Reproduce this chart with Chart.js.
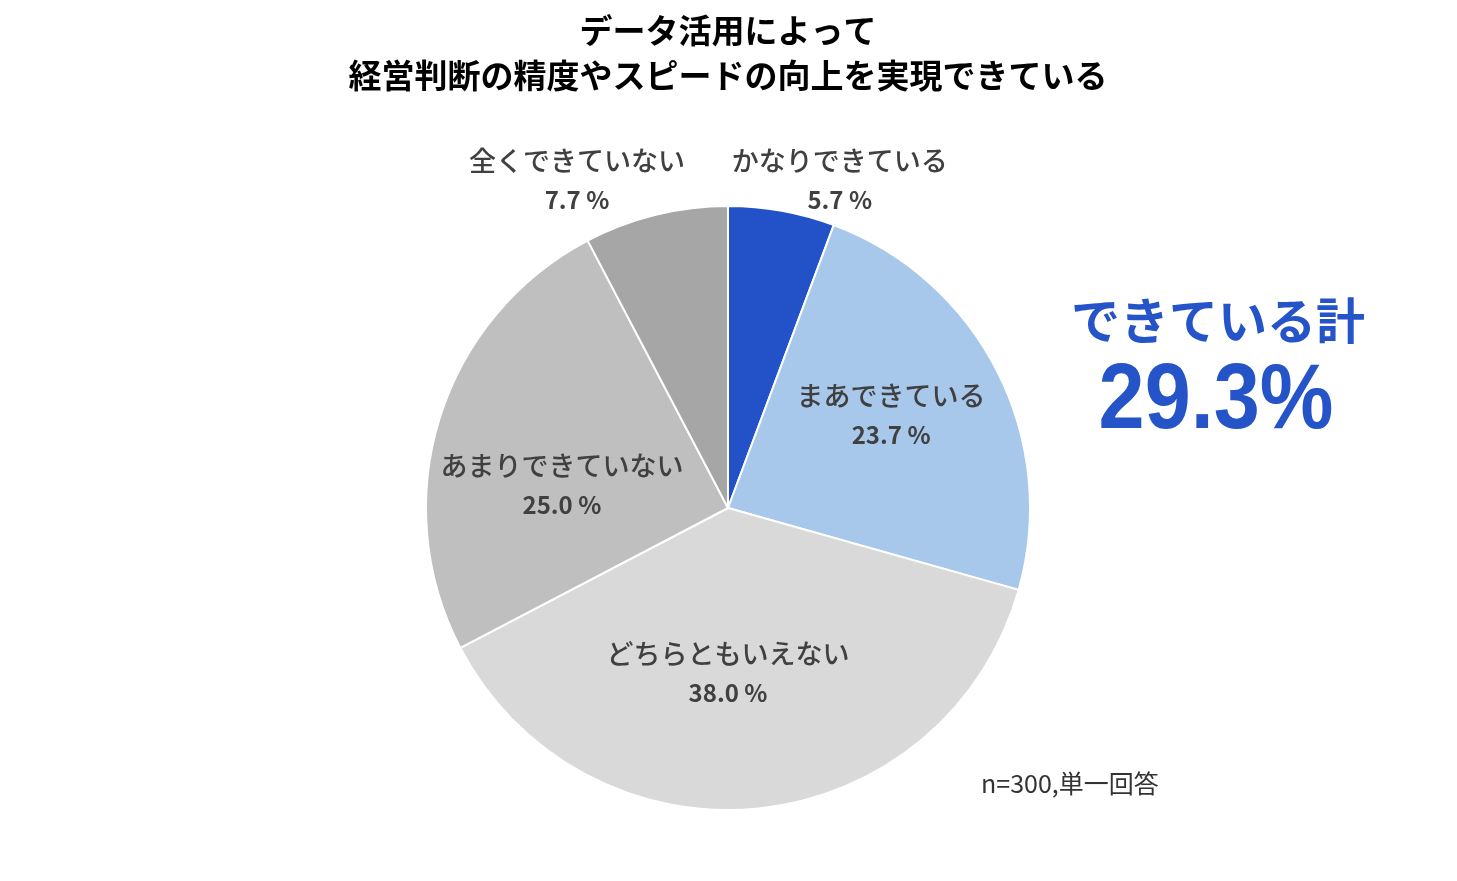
<!DOCTYPE html>
<html>
<head>
<meta charset="utf-8">
<script src="https://cdn.jsdelivr.net/npm/chart.js@4/dist/chart.umd.min.js"></script>
<style>
	html, body { margin: 0; padding: 0; background: #fff; }
	#wrap { position: relative; width: 1457px; height: 881px; }
</style>
</head>
<body>
<div id="wrap"><canvas id="pieChart" width="1457" height="881"></canvas></div>
<script>
// data
var categories = ["かなりできている", "まあできている", "どちらともいえない", "あまりできていない", "全くできていない"];
var values = [5.7, 23.7, 38.0, 25.0, 7.7];
var sliceColors = ["#2352C8", "#A7C8EB", "#D9D9D9", "#BFBFBF", "#A6A6A6"];
var titleLines = ["データ活用によって", "経営判断の精度やスピードの向上を実現できている"];
var totalLabel = "できている計";
var totalValue = "29.3%";
var noteText = "n=300,単一回答";

// label centre, as fractions of the pie radius from the pie centre
var labelOffsets = [[0.37, -1.087], [0.54, -0.31], [0.0, 0.545], [-0.55, -0.077], [-0.5, -1.087]];

var jpFont = '"Noto Sans CJK JP", "Noto Sans", sans-serif';

var labelPlugin = {
	id: 'sliceLabels',
	afterDatasetsDraw: function(chart) {
		var ctx = chart.ctx;
		var arcs = chart.getDatasetMeta(0).data;
		ctx.save();
		ctx.textAlign = 'center';
		ctx.textBaseline = 'middle';
		ctx.fillStyle = '#404040';
		for (var i = 0; i < arcs.length; i++) {
			var a = arcs[i];
			var x = a.x + labelOffsets[i][0] * a.outerRadius;
			var y = a.y + labelOffsets[i][1] * a.outerRadius;
			ctx.font = '500 27px ' + jpFont;
			ctx.fillText(categories[i], x, y - 19);
			ctx.font = 'bold 24px ' + jpFont;
			ctx.fillText(values[i].toFixed(1) + " %", x, y + 20);
		}
		ctx.restore();
	}
};

var textPlugin = {
	id: 'extraText',
	afterDraw: function(chart) {
		var ctx = chart.ctx;
		ctx.save();
		ctx.textAlign = 'center';
		ctx.textBaseline = 'middle';
		ctx.fillStyle = '#000';
		ctx.font = 'bold 33px ' + jpFont;
		ctx.fillText(titleLines[0], 728, 30);
		ctx.fillText(titleLines[1], 728, 75);

		ctx.fillStyle = '#2553C8';
		ctx.font = 'bold 49px ' + jpFont;
		ctx.fillText(totalLabel, 1218, 320);
		ctx.save();
		ctx.translate(1216, 403);
		ctx.scale(0.9, 1);
		ctx.font = 'bold 92px "Liberation Sans", Arial, sans-serif';
		ctx.fillText(totalValue, 0, 0);
		ctx.restore();

		ctx.fillStyle = '#333';
		ctx.font = '25px ' + jpFont;
		ctx.textAlign = 'left';
		ctx.fillText(noteText, 981, 783);
		ctx.restore();
	}
};

var pieCanvas = document.getElementById("pieChart").getContext("2d");
var pieChart = new Chart(pieCanvas, {
	type: 'pie',
	data: {
		labels: categories,
		datasets: [{
			data: values,
			backgroundColor: sliceColors,
			borderColor: '#ffffff',
			borderWidth: 2,
			hoverOffset: 0
		}]
	},
	options: {
		responsive: false,
		animation: false,
		layout: { padding: { left: 425, right: 426, top: 205, bottom: 70 } },
		plugins: {
			legend: { display: false },
			tooltip: { enabled: false },
			title: { display: false }
		}
	},
	plugins: [labelPlugin, textPlugin]
});
</script>
</body>
</html>
